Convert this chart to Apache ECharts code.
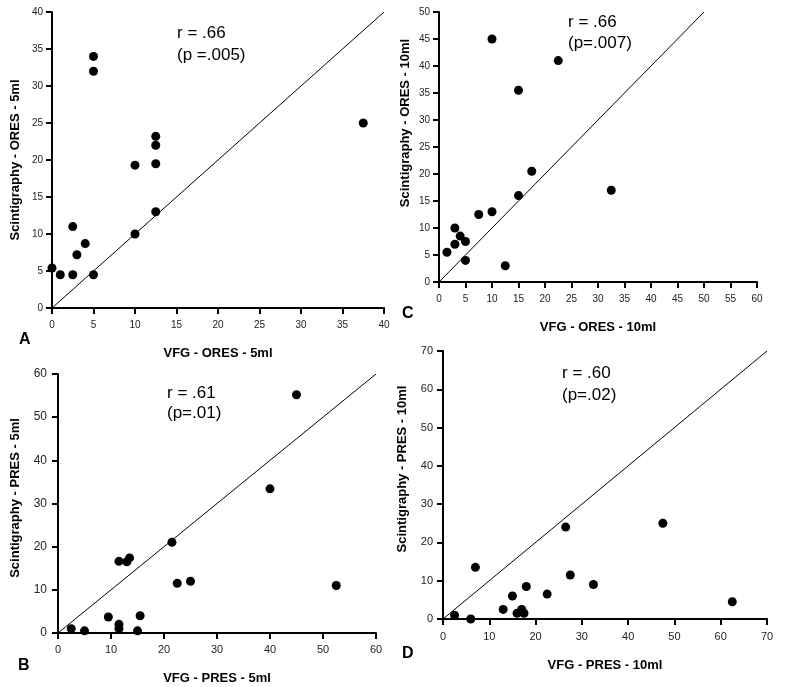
<!DOCTYPE html>
<html>
<head>
<meta charset="utf-8">
<script src="https://cdn.jsdelivr.net/npm/echarts@6/dist/echarts.min.js"></script>
<style>
html,body{margin:0;padding:0;background:#fff;}
#chart{width:789px;height:687px;}
</style>
</head>
<body>
<div id="chart"></div>
<script>
// Panel A: VFG - ORES - 5ml vs Scintigraphy - ORES - 5ml
const xA = [0, 1, 2.5, 2.5, 3, 4, 5, 5, 5, 10, 10, 12.5, 12.5, 12.5, 12.5, 37.5];
const yA = [5.4, 4.5, 4.5, 11, 7.2, 8.7, 4.5, 34, 32, 10, 19.3, 23.2, 22, 19.5, 13, 25];
// Panel C: VFG - ORES - 10ml vs Scintigraphy - ORES - 10ml
const xC = [1.5, 3, 3, 4, 5, 5, 7.5, 10, 10, 12.5, 15, 15, 17.5, 22.5, 32.5];
const yC = [5.5, 7, 10, 8.5, 7.5, 4, 12.5, 13, 45, 3, 16, 35.5, 20.5, 41, 17];
// Panel B: VFG - PRES - 5ml vs Scintigraphy - PRES - 5ml
const xB = [2.5, 5, 9.5, 11.5, 11.5, 11.5, 13, 13.5, 15, 15.5, 21.5, 22.5, 25, 40, 45, 52.5];
const yB = [1, 0.5, 3.7, 16.6, 2, 1, 16.5, 17.4, 0.5, 4, 21, 11.5, 12, 33.4, 55.2, 11];
// Panel D: VFG - PRES - 10ml vs Scintigraphy - PRES - 10ml
const xD = [2.5, 6, 7, 13, 15, 16, 17, 17.5, 18, 22.5, 26.5, 27.5, 32.5, 47.5, 62.5];
const yD = [1, 0, 13.5, 2.5, 6, 1.5, 2.5, 1.5, 8.5, 6.5, 24, 11.5, 9, 25, 4.5];

// Axis ranges / ticks
const axisMaxA = 40, tickA = 5;
const axisMaxC = 60, axisMaxCy = 50, tickC = 5;
const axisMaxB = 60, tickB = 10;
const axisMaxD = 70, tickD = 10;

// Texts
const labelsPanel = ['A', 'B', 'C', 'D'];
const xTitles = ['VFG - ORES - 5ml', 'VFG - PRES - 5ml', 'VFG - ORES - 10ml', 'VFG - PRES - 10ml'];
const yTitles = ['Scintigraphy - ORES - 5ml', 'Scintigraphy - PRES - 5ml', 'Scintigraphy - ORES - 10ml', 'Scintigraphy - PRES - 10ml'];
const rTexts = ['r = .66', 'r = .61', 'r = .66', 'r = .60'];
const pTexts = ['(p =.005)', '(p=.01)', '(p=.007)', '(p=.02)'];

const FONT = 'Arial, "Liberation Sans", sans-serif';

function pairs(xs, ys) { return xs.map((x, i) => [x, ys[i]]); }

const grids = [
  {left: 52, top: 12, width: 332, height: 296},   // A
  {left: 58, top: 374, width: 318, height: 259},  // B
  {left: 439, top: 12, width: 318, height: 270},  // C
  {left: 443, top: 351, width: 324, height: 268}  // D
];

function mkAxis(idx, max, interval, margin, fs) {
  return {
    type: 'value', gridIndex: idx, min: 0, max: max, interval: interval,
    splitLine: {show: false},
    axisLine: {show: true, onZero: false, lineStyle: {color: '#000', width: 2}},
    axisTick: {show: true, inside: false, length: 6, lineStyle: {color: '#000', width: 2}},
    axisLabel: {show: true, fontSize: fs, color: '#222', fontFamily: FONT, margin: margin}
  };
}

const xAxes = [
  mkAxis(0, axisMaxA, tickA, 12, 10),
  mkAxis(1, axisMaxB, tickB, 11, 11),
  mkAxis(2, axisMaxC, tickC, 12, 10),
  mkAxis(3, axisMaxD, tickD, 12, 11)
];
const yAxes = [
  mkAxis(0, axisMaxA, tickA, 9, 10),
  mkAxis(1, axisMaxB, tickB, 11, 12),
  mkAxis(2, axisMaxCy, tickC, 9, 10),
  mkAxis(3, axisMaxD, tickD, 10, 11)
];

const idMax = [axisMaxA, axisMaxB, axisMaxCy, axisMaxD];
const dataSets = [pairs(xA, yA), pairs(xB, yB), pairs(xC, yC), pairs(xD, yD)];

const series = [];
for (let i = 0; i < 4; i++) {
  series.push({
    type: 'line', xAxisIndex: i, yAxisIndex: i,
    data: [[0, 0], [idMax[i], idMax[i]]],
    showSymbol: false, symbol: 'none', silent: true,
    lineStyle: {color: '#000', width: 1}, z: 1
  });
  series.push({
    type: 'scatter', xAxisIndex: i, yAxisIndex: i,
    data: dataSets[i], symbol: 'circle', symbolSize: 9, clip: false,
    itemStyle: {color: '#000', opacity: 1}, z: 3
  });
}

// annotation positions
const panelLabelPos = [[19, 332], [18, 658], [402, 306], [402, 646]];
const xTitlePos = [[218, 353], [217, 678], [598, 327], [605, 665]];
const yTitlePos = [[15, 160], [15, 498], [405, 123], [402, 469]];
const rPos = [[177, 33], [167, 393], [568, 22], [562, 373]];
const pPos = [[177, 55], [167, 413], [568, 43], [562, 395]];

const graphic = [];
for (let i = 0; i < 4; i++) {
  graphic.push({type: 'text', left: panelLabelPos[i][0], top: panelLabelPos[i][1],
    style: {text: labelsPanel[i], font: 'bold 16px ' + FONT, fill: '#000'}});
  graphic.push({type: 'text', x: xTitlePos[i][0], y: xTitlePos[i][1],
    style: {text: xTitles[i], font: 'bold 13px ' + FONT, fill: '#000', align: 'center', verticalAlign: 'middle'}});
  graphic.push({type: 'text', x: yTitlePos[i][0], y: yTitlePos[i][1], rotation: Math.PI / 2,
    style: {text: yTitles[i], font: 'bold 13px ' + FONT, fill: '#000', align: 'center', verticalAlign: 'middle'}});
  graphic.push({type: 'text', x: rPos[i][0], y: rPos[i][1],
    style: {text: rTexts[i], font: '17px ' + FONT, fill: '#000', align: 'left', verticalAlign: 'middle'}});
  graphic.push({type: 'text', x: pPos[i][0], y: pPos[i][1],
    style: {text: pTexts[i], font: '17px ' + FONT, fill: '#000', align: 'left', verticalAlign: 'middle'}});
}

const chart = echarts.init(document.getElementById('chart'), null, {renderer: 'canvas'});
chart.setOption({
  animation: false,
  backgroundColor: '#fff',
  grid: grids,
  xAxis: xAxes,
  yAxis: yAxes,
  series: series,
  graphic: graphic
});
</script>
</body>
</html>
